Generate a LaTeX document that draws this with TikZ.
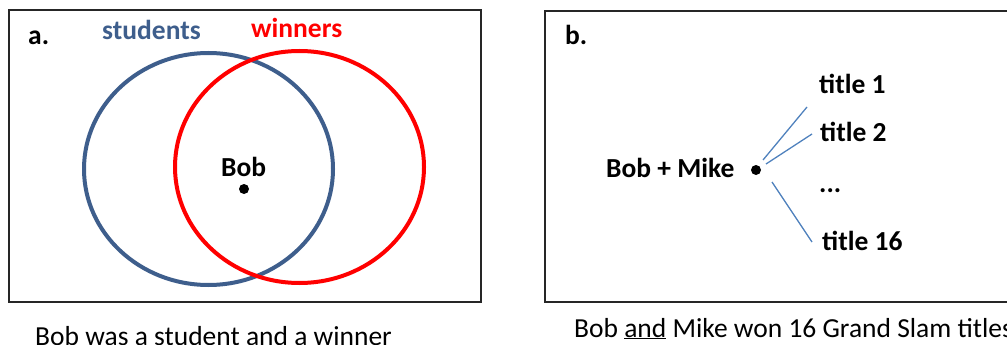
\documentclass[tikz,border=0pt]{standalone}
\usepackage{fontspec}
\setmainfont{Carlito}
\definecolor{setblue}{RGB}{62,94,140}
\definecolor{setred}{RGB}{255,0,0}
\definecolor{linkblue}{RGB}{79,129,189}
\begin{document}
\begin{tikzpicture}[x=1pt,y=-1pt,
  lbl/.style={inner sep=0pt,anchor=base west,font=\fontsize{27.5}{32}\selectfont\bfseries},
  captext/.style={inner sep=0pt,anchor=base west,font=\fontsize{27.5}{32}\selectfont},
  frame/.style={draw=black!85,line width=2pt},
  link/.style={draw=linkblue,line width=1.3pt}]
\useasboundingbox (0,0) rectangle (1007,345);
\clip (0,0) rectangle (1007,345);
% panel a
\draw[frame] (9,10) rectangle (481,302);
\draw[setblue,line width=4pt] (208.5,169) ellipse (124.5 and 116);
\draw[setred,line width=4pt] (299.5,167) ellipse (124.5 and 116);
\node[lbl] (la) at (28,45) {a.};
\node[lbl,text=setblue] (stu) at (102,40) {students};
\node[lbl,text=setred] (win) at (251,38) {winners};
\node[lbl] (bob) at (221,176) {Bob};
\fill (244,189) circle (5);
\node[captext] (capa) at (35,345) {Bob was a student and a winner};
% panel b
\draw[frame] (545,11) rectangle (1012,302);
\node[lbl] (lb) at (565,45) {b.};
\node[lbl] (bm) at (606,177) {Bob + Mike};
\node[circle,fill=black,inner sep=0pt,minimum size=10pt] (dot) at (756,170) {};
\node[lbl] (t1) at (819,93) {title 1};
\node[lbl] (t2) at (820,141) {title 2};
\node[lbl] (dd) at (819,192) {...};
\node[lbl] (t16) at (822,250) {title 16};
\coordinate (s1) at (763,160); \coordinate (e1) at (807,107);
\coordinate (s2) at (766,164); \coordinate (e2) at (812,134);
\coordinate (s3) at (772,182); \coordinate (e3) at (812,242);
\draw[link] (s1) -- (e1);
\draw[link] (s2) -- (e2);
\draw[link] (s3) -- (e3);
\node[captext] (capb) at (574,337) {Bob \underline{and} Mike won 16 Grand Slam titles};
\end{tikzpicture}
\end{document}
